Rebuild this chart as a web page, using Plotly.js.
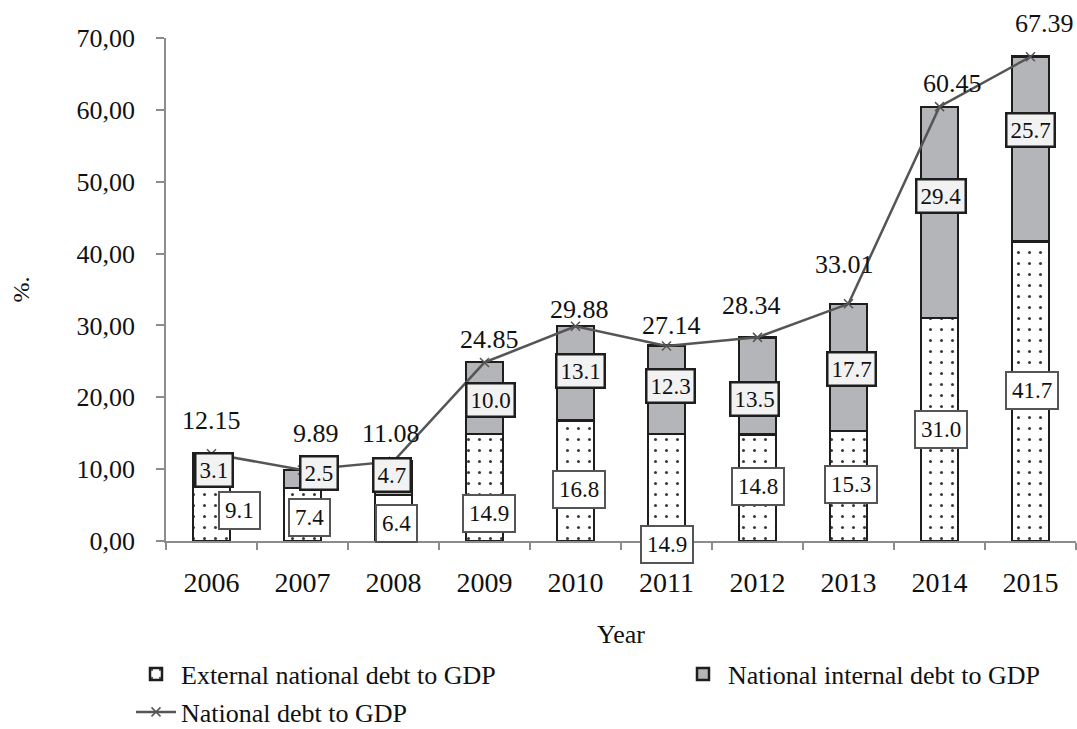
<!DOCTYPE html>
<html>
<head>
<meta charset="utf-8">
<script src="https://cdn.plot.ly/plotly-3.0.1.min.js"></script>
<style>
html,body{margin:0;padding:0;background:#ffffff;}
#chart{width:1077px;height:729px;}
</style>
</head>
<body>
<div id="chart"></div>
<script>
// ---- data ----
const years = ['2006','2007','2008','2009','2010','2011','2012','2013','2014','2015'];
const externalDebt = [9.1, 7.4, 6.4, 14.9, 16.8, 14.9, 14.8, 15.3, 31.0, 41.7];
const internalDebt = [3.1, 2.5, 4.7, 10.0, 13.1, 12.3, 13.5, 17.7, 29.4, 25.7];
const totalDebt = [12.15, 9.89, 11.08, 24.85, 29.88, 27.14, 28.34, 33.01, 60.45, 67.39];
const seriesNames = ['External national debt to GDP', 'National internal debt to GDP', 'National debt to GDP'];
const xTitle = 'Year';
const yTitle = '%.';

// ---- label placement (pixel shifts, styling only) ----
const extShift = [[27.5,-2],[6.5,-3.5],[3,-5.5],[4.5,-26.5],[3.5,-9],[0,-57.5],[0,1],[2.5,2],[1.5,0],[1,1]];
const intShift = [[2.5,-5.5],[16,5.5],[-1.5,3],[5.5,-2],[4.5,2],[3.5,3.5],[-3.5,-12.5],[2.5,-1.5],[1,16.5],[0,19]];
const totShift = [[0,33],[13,36],[-3,28],[5,23],[4,17],[5,20],[-6,32],[-4,39],[13,23],[14,33]];

const FONT = 'Liberation Serif, Times New Roman, serif';
const AXIS = '#8c8c8c';

const traces = [
  {
    type: 'bar', name: seriesNames[0], x: years, y: externalDebt,
    width: 0.41, legend: 'legend',
    marker: {
      color: '#ffffff',
      line: {color: '#1e1e1e', width: 2.5},
      pattern: {shape: '.', fgcolor: '#3a3a3a', bgcolor: '#ffffff', size: 11, solidity: 0.06}
    },
    hoverinfo: 'x+y'
  },
  {
    type: 'bar', name: seriesNames[1], x: years, y: internalDebt,
    width: 0.41, legend: 'legend2',
    marker: {color: '#b4b5b8', line: {color: '#1e1e1e', width: 2.5}},
    hoverinfo: 'x+y'
  },
  {
    type: 'scatter', mode: 'lines+markers', name: seriesNames[2], x: years, y: totalDebt,
    legend: 'legend3',
    line: {color: '#555555', width: 2.5},
    marker: {symbol: 'x-thin', size: 9, color: '#555555', line: {color: '#555555', width: 1.5}},
    hoverinfo: 'x+y'
  }
];

const annotations = [];
years.forEach((yr, i) => {
  annotations.push({
    x: i, y: externalDebt[i] / 2, xref: 'x', yref: 'y',
    text: externalDebt[i].toFixed(1), showarrow: false,
    xshift: extShift[i][0], yshift: extShift[i][1],
    font: {family: FONT, size: 23, color: '#111'},
    bgcolor: '#ffffff', bordercolor: '#555555', borderwidth: 2, borderpad: 5
  });
  annotations.push({
    x: i, y: externalDebt[i] + internalDebt[i] / 2, xref: 'x', yref: 'y',
    text: internalDebt[i].toFixed(1), showarrow: false,
    xshift: intShift[i][0], yshift: intShift[i][1],
    font: {family: FONT, size: 23, color: '#111'},
    bgcolor: '#f2f2f2', bordercolor: '#1e1e1e', borderwidth: 2.5, borderpad: 3
  });
  annotations.push({
    x: i, y: totalDebt[i], xref: 'x', yref: 'y',
    text: totalDebt[i].toFixed(2), showarrow: false,
    xshift: totShift[i][0], yshift: totShift[i][1],
    font: {family: FONT, size: 26, color: '#111'}
  });
});

const legendBase = {
  orientation: 'h',
  xref: 'container', yref: 'container',
  xanchor: 'left', yanchor: 'middle',
  itemwidth: 40,
  font: {family: FONT, size: 26, color: '#111'},
  bgcolor: 'rgba(0,0,0,0)', borderwidth: 0
};

const layout = {
  width: 1077, height: 729,
  margin: {l: 166, r: 1, t: 38, b: 188},
  paper_bgcolor: '#ffffff', plot_bgcolor: '#ffffff',
  font: {family: FONT, color: '#111', size: 26},
  separators: ',.',
  barmode: 'stack',
  showlegend: true,
  xaxis: {
    type: 'category',
    range: [-0.5, years.length - 0.5],
    autorange: false,
    showline: true, linecolor: AXIS, linewidth: 1.5,
    ticks: 'outside', tickson: 'boundaries', ticklen: 7, tickcolor: AXIS, tickwidth: 1.5,
    tickfont: {family: FONT, size: 28, color: '#111'},
    tickangle: 0,
    ticklabelstandoff: 16,
    showgrid: false, zeroline: false,
    title: {text: xTitle, font: {family: FONT, size: 26, color: '#111'}, standoff: 27}
  },
  yaxis: {
    range: [0, 70], autorange: false, dtick: 10, tick0: 0, tickformat: '.2f',
    showline: true, linecolor: AXIS, linewidth: 1.5,
    ticks: 'outside', ticklen: 8, tickcolor: AXIS, tickwidth: 1.5,
    tickfont: {family: FONT, size: 26, color: '#111'},
    ticklabelstandoff: 16,
    showgrid: false, zeroline: false,
    title: {text: yTitle, font: {family: FONT, size: 24, color: '#111'}, standoff: 40}
  },
  legend: Object.assign({}, legendBase, {x: 131 / 1077, y: 1 - 674 / 729}),
  legend2: Object.assign({}, legendBase, {x: 678 / 1077, y: 1 - 674 / 729}),
  legend3: Object.assign({}, legendBase, {x: 131 / 1077, y: 1 - 712 / 729}),
  annotations: annotations
};

Plotly.newPlot('chart', traces, layout, {displayModeBar: false, responsive: false});
</script>
</body>
</html>
